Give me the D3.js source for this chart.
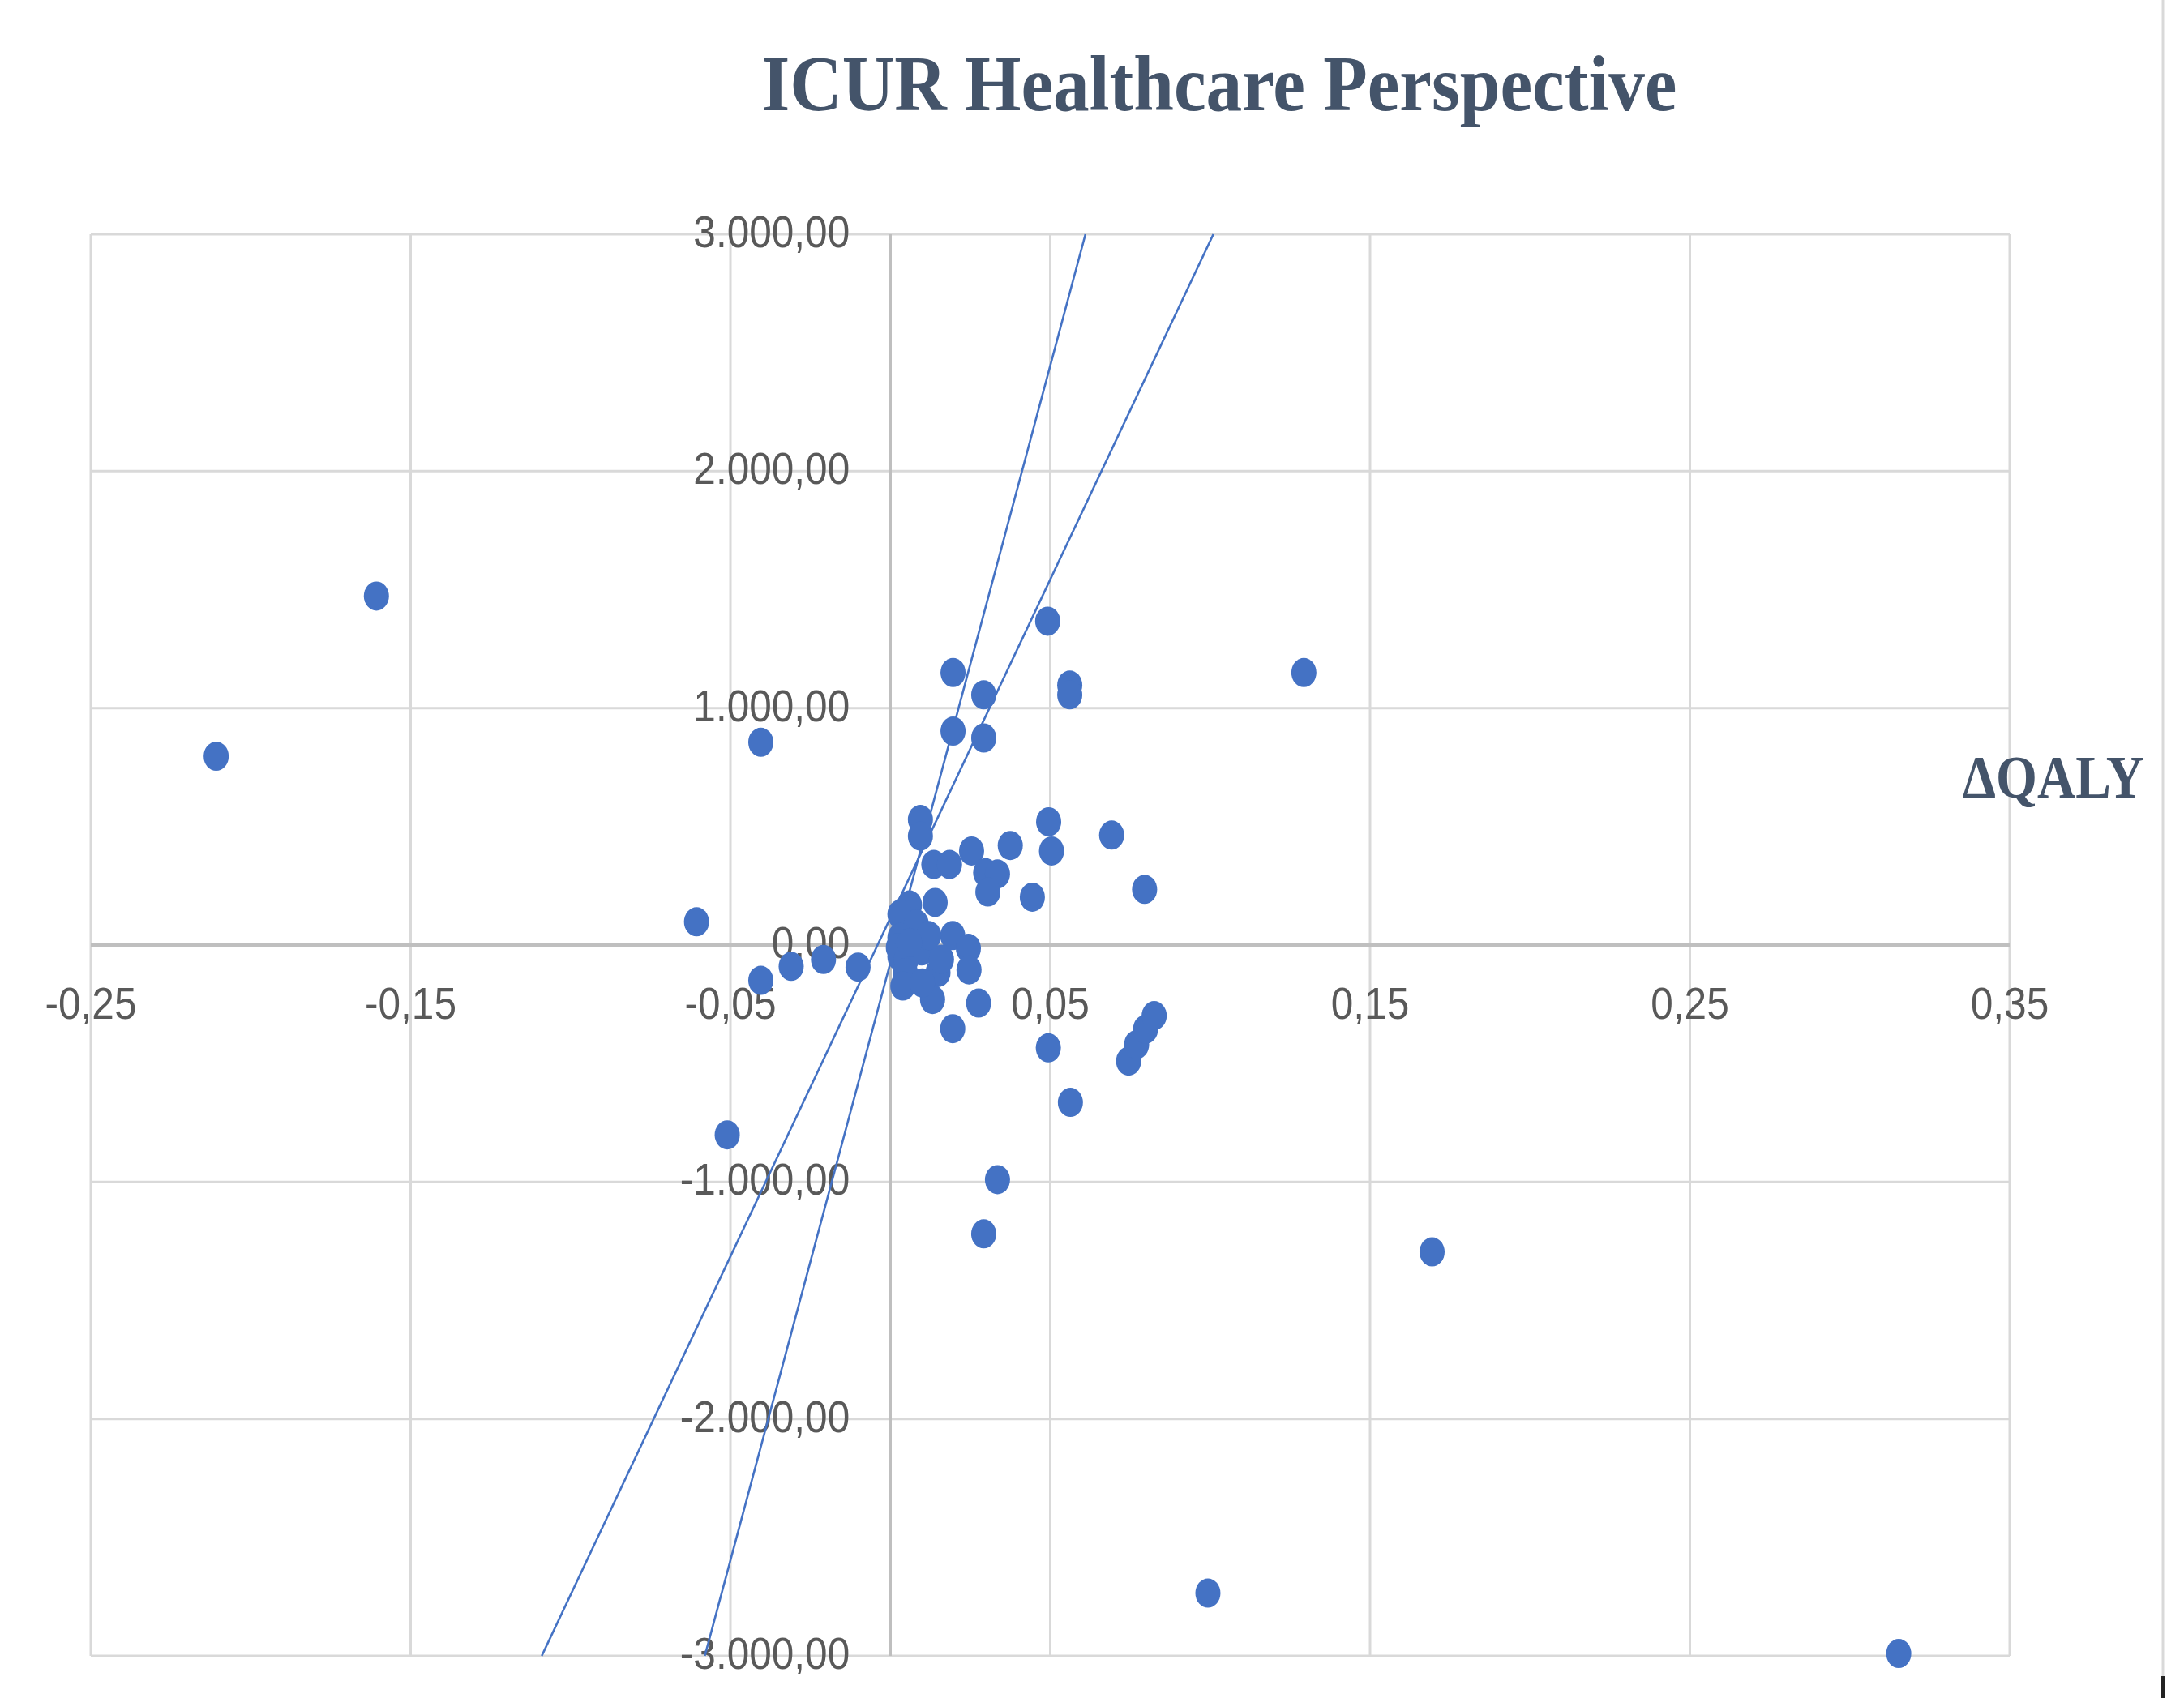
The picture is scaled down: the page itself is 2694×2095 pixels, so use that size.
<!DOCTYPE html>
<html>
<head>
<meta charset="utf-8">
<script src="https://cdn.jsdelivr.net/npm/d3@7"></script>
<style>
  html, body { margin: 0; padding: 0; background: #ffffff; }
  svg { display: block; }
</style>
</head>
<body>
<script>
// ---------------- DATA ----------------
const chartTitle = "ICUR Healthcare Perspective";
const xAxisTitle = "\u0394QALY";

// Incremental QALY (x) and incremental cost (y) of each simulation point
const deltaQALY = [
  -0.2108, -0.1607, -0.0405, -0.0606, -0.0405, -0.0310, -0.0209, -0.0101, -0.0510,
  0.0492, 0.0196, 0.0292, 0.0196, 0.0292, 0.0561, 0.0561, 0.1293,
  0.0094, 0.0094, 0.0136, 0.0185, 0.0254, 0.0375, 0.0495, 0.0504, 0.0692, 0.0795,
  0.0444, 0.0298, 0.0335, 0.0305, 0.0195, 0.0244, 0.0246, 0.0276, 0.0195, 0.0494,
  0.0563, 0.0745, 0.0770, 0.0798, 0.0825, 0.0335, 0.0292, 0.1694, 0.0993, 0.3153,
  0.0140, 0.0060, 0.0030, 0.0081, 0.0030, 0.0025, 0.0098, 0.0030, 0.0050, 0.0047,
  0.0039, 0.0149, 0.0132, 0.0100, 0.0160, 0.0120, 0.0060
];
const deltaCost = [
  797, 1473, 856, 98, -149, -90, -61, -93, -801,
  1367, 1150, 1056, 903, 874, 1097, 1056, 1150,
  530, 460, 340, 340, 397, 420, 520, 397, 464, 235,
  202, 305, 300, 224, 40, -14, -105, -245, -353, -434,
  -664, -490, -420, -355, -298, -990, -1219, -1295, -2735, -2990,
  180, 169, 130, 89, 32, -10, -25, -50, -60, -116,
  -173, -116, -230, -160, -60, 40, 10
];

// Threshold lines (endpoints in data units)
const thresholdLineA = [[-0.058, -3000], [0.061, 3000]];
const thresholdLineB = [[-0.109, -3000], [0.101, 3000]];

// Axis ticks
const xTickValues = [-0.25, -0.15, -0.05, 0.05, 0.15, 0.25, 0.35];
const xTickLabels = ["-0,25", "-0,15", "-0,05", "0,05", "0,15", "0,25", "0,35"];
const yTickValues = [3000, 2000, 1000, 0, -1000, -2000, -3000];
const yTickLabels = ["3.000,00", "2.000,00", "1.000,00", "0,00", "-1.000,00", "-2.000,00", "-3.000,00"];

// ---------------- CHART ----------------
const W = 2694, H = 2095;
const plot = { left: 112, right: 2479, top: 289, bottom: 2043 };

const x = d3.scaleLinear().domain([-0.25, 0.35]).range([plot.left, plot.right]);
const y = d3.scaleLinear().domain([-3000, 3000]).range([plot.bottom, plot.top]);

const svg = d3.select("body").append("svg")
  .attr("width", W).attr("height", H)
  .attr("viewBox", `0 0 ${W} ${H}`);

svg.append("rect").attr("width", W).attr("height", H).attr("fill", "#ffffff");

const gridColor = "#d9d9d9";
const axisColor = "#bfbfbf";
const labelColor = "#595959";
const titleColor = "#44546a";
const markColor = "#4472c4";
const squeeze = 0.885;

function squeezeText(sel, factor) {
  sel.each(function () {
    const len = this.getComputedTextLength();
    d3.select(this).attr("textLength", len * factor).attr("lengthAdjust", "spacingAndGlyphs");
  });
}

// gridlines
const grid = svg.append("g");
grid.selectAll("line.v").data(xTickValues).join("line")
  .attr("x1", d => x(d)).attr("x2", d => x(d))
  .attr("y1", plot.top).attr("y2", plot.bottom)
  .attr("stroke", gridColor).attr("stroke-width", 3);
grid.selectAll("line.h").data(yTickValues.filter(d => d !== 0)).join("line")
  .attr("x1", plot.left).attr("x2", plot.right)
  .attr("y1", d => y(d)).attr("y2", d => y(d))
  .attr("stroke", gridColor).attr("stroke-width", 3);

// axes through the origin
svg.append("line")
  .attr("x1", x(0)).attr("x2", x(0)).attr("y1", plot.top).attr("y2", plot.bottom)
  .attr("stroke", axisColor).attr("stroke-width", 3.5);
svg.append("line")
  .attr("x1", plot.left).attr("x2", plot.right).attr("y1", y(0)).attr("y2", y(0))
  .attr("stroke", axisColor).attr("stroke-width", 4);

// tick labels
const labelFont = "'Liberation Sans', Arial, sans-serif";
const yLab = svg.append("g").selectAll("text").data(yTickValues).join("text")
  .attr("x", x(0) - 50)
  .attr("y", d => y(d) + 16)
  .attr("text-anchor", "end")
  .attr("font-family", labelFont).attr("font-size", 56)
  .attr("fill", labelColor)
  .text((d, i) => yTickLabels[i]);
squeezeText(yLab, squeeze);

const xLab = svg.append("g").selectAll("text").data(xTickValues).join("text")
  .attr("x", d => x(d))
  .attr("y", y(0) + 91)
  .attr("text-anchor", "middle")
  .attr("font-family", labelFont).attr("font-size", 56)
  .attr("fill", labelColor)
  .text((d, i) => xTickLabels[i]);
squeezeText(xLab, squeeze);

// threshold lines
const lineGen = d3.line().x(d => x(d[0])).y(d => y(d[1]));
[thresholdLineA, thresholdLineB].forEach(l => {
  svg.append("path").attr("d", lineGen(l))
    .attr("fill", "none").attr("stroke", markColor).attr("stroke-width", 2.6);
});

// points
const pts = deltaQALY.map((q, i) => [q, deltaCost[i]]);
svg.append("g").selectAll("ellipse").data(pts).join("ellipse")
  .attr("cx", d => x(d[0])).attr("cy", d => y(d[1]))
  .attr("rx", 15.5).attr("ry", 18)
  .attr("fill", markColor);

// title
const serif = "'Liberation Serif', 'Times New Roman', serif";
svg.append("text")
  .attr("x", 1504).attr("y", 136)
  .attr("text-anchor", "middle")
  .attr("font-family", serif).attr("font-weight", "bold").attr("font-size", 97)
  .attr("fill", titleColor)
  .attr("textLength", 1129).attr("lengthAdjust", "spacingAndGlyphs")
  .text(chartTitle);

// x axis title
svg.append("text")
  .attr("x", 2421).attr("y", 984)
  .attr("text-anchor", "start")
  .attr("font-family", serif).attr("font-weight", "bold").attr("font-size", 74)
  .attr("fill", titleColor)
  .attr("textLength", 224).attr("lengthAdjust", "spacingAndGlyphs")
  .text(xAxisTitle);

// outer chart-area edge artefacts
svg.append("line").attr("x1", 2668).attr("x2", 2668).attr("y1", 0).attr("y2", 2068)
  .attr("stroke", gridColor).attr("stroke-width", 3);
svg.append("line").attr("x1", 2668).attr("x2", 2668).attr("y1", 2068).attr("y2", 2095)
  .attr("stroke", "#222222").attr("stroke-width", 4);
</script>
</body>
</html>
